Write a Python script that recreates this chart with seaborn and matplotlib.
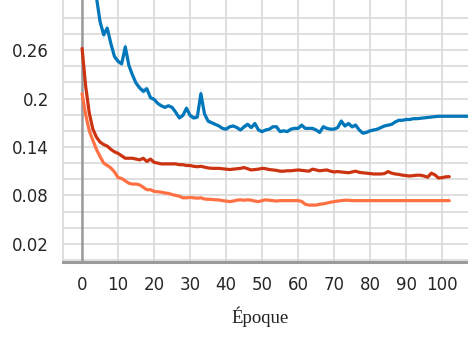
import warnings
warnings.filterwarnings('ignore')

import matplotlib
matplotlib.use('Agg')

import numpy as np
import pandas as pd
import matplotlib.pyplot as plt
import seaborn as sns

# Loss values, one per epoch
blue_loss = [
    0.600, 0.480, 0.410, 0.360, 0.325, 0.295, 0.279, 0.287, 0.268, 0.252,
    0.246, 0.243, 0.264, 0.241, 0.229, 0.219, 0.213, 0.209, 0.212, 0.201,
    0.199, 0.194, 0.191, 0.189, 0.191, 0.189, 0.183, 0.176, 0.179, 0.188,
    0.179, 0.176, 0.177, 0.206, 0.181, 0.172, 0.170, 0.168, 0.166, 0.163,
    0.162, 0.165, 0.166, 0.164, 0.161, 0.165, 0.168, 0.164, 0.169, 0.161,
    0.159, 0.161, 0.162, 0.165, 0.165, 0.159, 0.160, 0.159, 0.162, 0.163,
    0.163, 0.167, 0.163, 0.163, 0.163, 0.161, 0.158, 0.165, 0.163, 0.162,
    0.162, 0.164, 0.172, 0.166, 0.169, 0.165, 0.167, 0.161, 0.157, 0.158,
    0.160, 0.161, 0.162, 0.164, 0.166, 0.167, 0.168, 0.171, 0.173, 0.173,
    0.174, 0.174, 0.175, 0.175, 0.1755, 0.176, 0.1765, 0.177, 0.1775, 0.178,
    0.178, 0.178, 0.178, 0.178, 0.178, 0.178, 0.178, 0.178, 0.178,
]
blue_spread = [
    0.010, 0.010, 0.008, 0.008, 0.006, 0.006, 0.006, 0.005, 0.006, 0.004,
    0.003, 0.003, 0.006, 0.004, 0.003, 0.003, 0.003, 0.004, 0.004, 0.003,
    0.002, 0.002, 0.002, 0.002, 0.002, 0.002, 0.003, 0.003, 0.003, 0.003,
    0.003, 0.003, 0.003, 0.008, 0.005, 0.003, 0.002, 0.002, 0.002, 0.002,
    0.002, 0.002, 0.002, 0.002, 0.002, 0.003, 0.003, 0.002, 0.003, 0.002,
    0.002, 0.002, 0.002, 0.002, 0.002, 0.002, 0.002, 0.002, 0.002, 0.002,
    0.002, 0.003, 0.002, 0.002, 0.002, 0.002, 0.002, 0.003, 0.002, 0.002,
    0.002, 0.002, 0.004, 0.003, 0.003, 0.003, 0.003, 0.002, 0.002, 0.002,
    0.002, 0.002, 0.002, 0.002, 0.002, 0.002, 0.002, 0.002, 0.001, 0.001,
    0.001, 0.001, 0.001, 0.001, 0.001, 0.001, 0.001, 0.001, 0.001, 0.001,
    0.001, 0.001, 0.001, 0.001, 0.001, 0.001, 0.001, 0.001, 0.001,
]
red_loss = [
    0.262, 0.215, 0.182, 0.162, 0.152, 0.146, 0.143, 0.141, 0.137, 0.134,
    0.132, 0.129, 0.126, 0.126, 0.126, 0.125, 0.124, 0.126, 0.122, 0.125,
    0.121, 0.120, 0.119, 0.119, 0.119, 0.119, 0.119, 0.118, 0.118, 0.117,
    0.117, 0.116, 0.1155, 0.116, 0.115, 0.114, 0.1135, 0.1135, 0.1135, 0.113,
    0.1125, 0.112, 0.1125, 0.113, 0.1135, 0.1145, 0.113, 0.1115, 0.112, 0.1125,
    0.1135, 0.113, 0.112, 0.1115, 0.111, 0.110, 0.110, 0.1105, 0.1105, 0.111,
    0.1115, 0.111, 0.1105, 0.110, 0.1125, 0.1115, 0.1105, 0.111, 0.1115, 0.110,
    0.109, 0.1095, 0.109, 0.1085, 0.108, 0.109, 0.110, 0.1085, 0.108, 0.1075,
    0.107, 0.1065, 0.1065, 0.1065, 0.107, 0.1095, 0.1075, 0.1065, 0.106, 0.105,
    0.1045, 0.104, 0.1045, 0.105, 0.105, 0.104, 0.1025, 0.1075, 0.1055, 0.1015,
    0.102, 0.103, 0.1032,
]
orange_loss = [
    0.206, 0.180, 0.160, 0.148, 0.137, 0.128, 0.120, 0.117, 0.114, 0.109,
    0.102, 0.101, 0.098, 0.095, 0.094, 0.094, 0.093, 0.090, 0.087, 0.087,
    0.085, 0.0845, 0.084, 0.083, 0.0825, 0.081, 0.080, 0.079, 0.077, 0.077,
    0.0775, 0.077, 0.0765, 0.077, 0.0755, 0.0752, 0.075, 0.0745, 0.0744, 0.0735,
    0.073, 0.0723, 0.073, 0.074, 0.0745, 0.074, 0.0745, 0.074, 0.073, 0.0723,
    0.0735, 0.0745, 0.074, 0.0735, 0.073, 0.0735, 0.0735, 0.0735, 0.0735, 0.0735,
    0.0735, 0.0725, 0.069, 0.068, 0.068, 0.068, 0.069, 0.0695, 0.0705, 0.0715,
    0.0723, 0.073, 0.0735, 0.074, 0.074, 0.0735, 0.0735, 0.0735, 0.0735, 0.0735,
    0.0735, 0.0735, 0.0735, 0.0735, 0.0735, 0.0735, 0.0735, 0.0735, 0.0735, 0.0735,
    0.0735, 0.0735, 0.0735, 0.0735, 0.0735, 0.0735, 0.0735, 0.0735, 0.0735, 0.0735,
    0.0735, 0.0735, 0.0735,
]

series_names = ['blue', 'red', 'orange']
series_colors = ['#0077BB', '#CC3311', '#FF7043']
x_ticks = [0, 10, 20, 30, 40, 50, 60, 70, 80, 90, 100]
y_grid = [0.0, 0.02, 0.04, 0.06, 0.08, 0.10, 0.12, 0.14, 0.16, 0.18, 0.20, 0.22, 0.24, 0.26, 0.28, 0.30]
y_labeled = [0.02, 0.08, 0.14, 0.2, 0.26]

frames = []
for name, vals in zip(series_names, [blue_loss, red_loss, orange_loss]):
    frames.append(pd.DataFrame({'epoch': np.arange(len(vals)), 'loss': vals, 'run': name}))
df = pd.concat(frames, ignore_index=True)

sns.set_style('white')
plt.rcParams['font.family'] = ['DejaVu Sans']

fig = plt.figure(figsize=(4.68, 3.38), dpi=100)
ax = fig.add_axes([63 / 468, 1 - 262 / 338, 1 - 63 / 468, 262 / 338])

grid_color = '#d9d9d9'
ax.set_axisbelow(True)

# confidence band of the blue run
blue_epochs = np.arange(len(blue_loss))
lo = np.array(blue_loss) - np.array(blue_spread)
hi = np.array(blue_loss) + np.array(blue_spread)
ax.fill_between(blue_epochs, lo, hi, color='#0077BB', alpha=0.2, lw=0)

sns.lineplot(data=df, x='epoch', y='loss', hue='run', palette=series_colors,
             hue_order=series_names, linewidth=2.3, legend=False, ax=ax)

ax.axvline(0, color='#9a9a9a', lw=1.8, zorder=1.5)

ax.set_xlim(-5.3, 107.2)
ax.set_ylim(-0.0025, 0.322)

ax.set_xticks(x_ticks)
ax.set_yticks(y_grid)
ax.set_yticklabels([('%g' % v) if any(abs(v - t) < 1e-9 for t in y_labeled) else '' for v in y_grid])
ax.grid(True, color=grid_color, lw=1.2)
ax.tick_params(axis='both', length=6, width=1.2, color=grid_color, labelsize=12,
               labelcolor='#262626', pad=4)

for side in ['top', 'right']:
    ax.spines[side].set_visible(False)
ax.spines['left'].set_color(grid_color)
ax.spines['left'].set_linewidth(1.2)
ax.spines['bottom'].set_color('#9a9a9a')
ax.spines['bottom'].set_linewidth(2.2)

ax.set_ylabel('')
ax.set_xlabel('Époque', family=['Liberation Serif', 'DejaVu Serif'], fontsize=13.5, color='#222222')
ax.xaxis.set_label_coords(0.486, -0.168)

fig.savefig('out.png', dpi=100)
plt.close(fig)
print('Saved: out.png')
